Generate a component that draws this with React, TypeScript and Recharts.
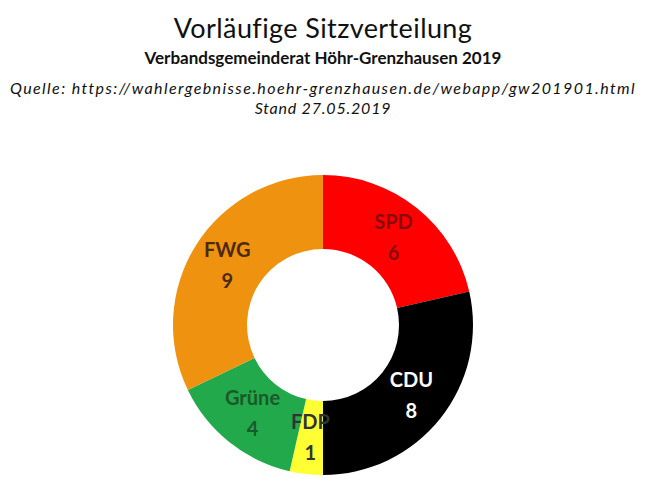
import { Cell, Pie, PieChart } from 'recharts';

const parties = ['SPD', 'CDU', 'FDP', 'Grüne', 'FWG'];
const seats = [6, 8, 1, 4, 9];
const sliceColors = ['#ff0000', '#000000', '#ffff33', '#22a94b', '#ee920f'];
const labelColors = ['#8b0a0a', '#ffffff', '#333333', '#1a5a2a', '#4a2a10'];

const titleLines = [
  'Vorläufige Sitzverteilung',
  'Verbandsgemeinderat Höhr-Grenzhausen 2019',
  'Quelle: https://wahlergebnisse.hoehr-grenzhausen.de/webapp/gw201901.html',
  'Stand 27.05.2019',
];

const data = parties.map((name, i) => ({ name, value: seats[i] }));

const RAD = Math.PI / 180;

function renderLabel(props: any) {
  const { cx, cy, midAngle, innerRadius, outerRadius, index, name, value } = props;
  const r = (innerRadius + outerRadius) / 2;
  const x = cx + r * Math.cos(-midAngle * RAD);
  const y = cy + r * Math.sin(-midAngle * RAD);
  return (
    <text
      x={x}
      y={y}
      textAnchor="middle"
      fill={labelColors[index]}
      fontFamily="Lato, sans-serif"
      fontWeight="bold"
      fontSize={20}
    >
      <tspan x={x} dy={-8}>{name}</tspan>
      <tspan x={x} dy={31}>{value}</tspan>
    </text>
  );
}

export default function App() {
  return (
    <div
      style={{
        position: 'fixed',
        left: 0,
        top: 0,
        width: 646,
        height: 503,
        background: '#fff',
        fontFamily: 'Lato, sans-serif',
        color: '#111',
      }}
    >
      <div style={{ position: 'absolute', top: 11, width: '100%', textAlign: 'center', fontSize: 27, letterSpacing: 0.4 }}>
        {titleLines[0]}
      </div>
      <div style={{ position: 'absolute', top: 47, width: '100%', textAlign: 'center', fontSize: 17, fontWeight: 'bold' }}>
        {titleLines[1]}
      </div>
      <div style={{ position: 'absolute', top: 78, width: '100%', textAlign: 'center', fontSize: 16, fontStyle: 'italic', letterSpacing: 1.4 }}>
        {titleLines[2]}
      </div>
      <div style={{ position: 'absolute', top: 98, width: '100%', textAlign: 'center', fontSize: 16, fontStyle: 'italic', letterSpacing: 0.8 }}>
        {titleLines[3]}
      </div>
      <div style={{ position: 'absolute', left: 0, top: 0 }}>
        <PieChart width={646} height={503}>
          <Pie
            data={data}
            dataKey="value"
            nameKey="name"
            cx={318}
            cy={320}
            innerRadius={76}
            outerRadius={150}
            startAngle={90}
            endAngle={-270}
            stroke="none"
            labelLine={false}
            label={renderLabel}
            isAnimationActive={false}
          >
            {data.map((d, i) => (
              <Cell key={d.name} fill={sliceColors[i]} />
            ))}
          </Pie>
        </PieChart>
      </div>
    </div>
  );
}
